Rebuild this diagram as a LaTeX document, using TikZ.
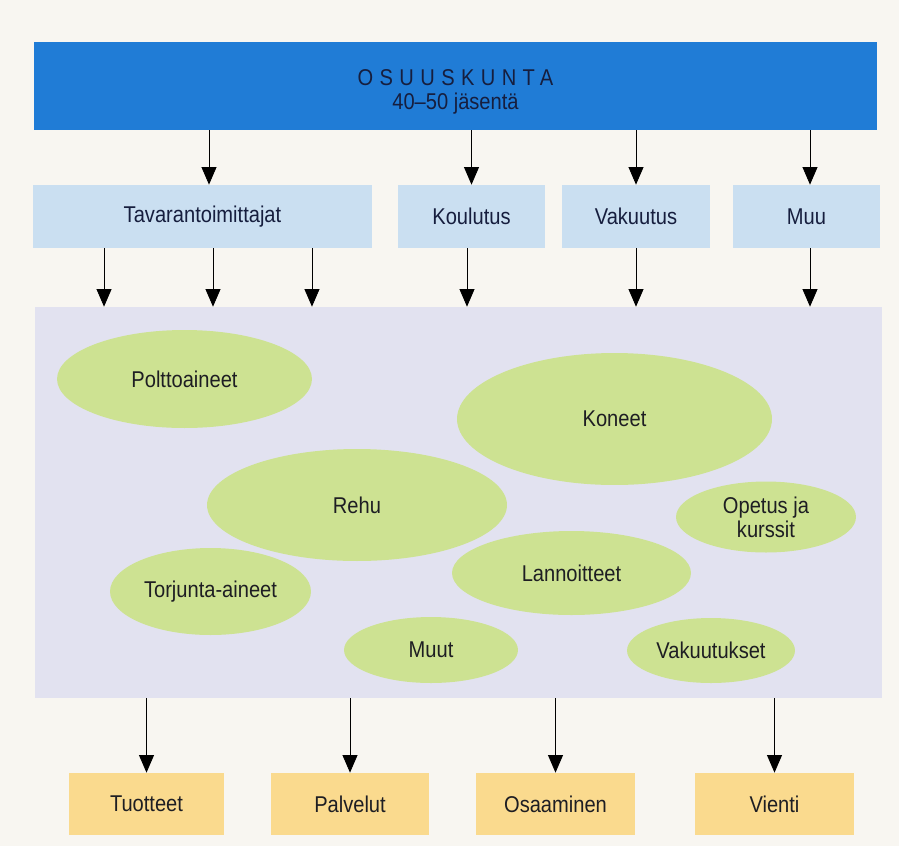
\documentclass[tikz,border=0pt]{standalone}
\usepackage{fontspec}
\setmainfont{Liberation Sans}[FakeStretch=0.88]
\usepackage{tikz}
\usetikzlibrary{shapes.geometric, arrows.meta, positioning, calc}
\definecolor{ospblue}{RGB}{32,124,214}
\definecolor{osplightblue}{RGB}{202,223,241}
\definecolor{osplavender}{RGB}{226,226,240}
\definecolor{ospgreen}{RGB}{205,226,146}
\definecolor{osporange}{RGB}{250,218,142}
\definecolor{ospcream}{RGB}{248,246,241}
\definecolor{ospnavy}{RGB}{22,30,62}
\definecolor{osptext}{RGB}{30,30,35}

\begin{document}
\begin{tikzpicture}[
  x=0.02cm, y=-0.02cm,
  every node/.style = {font=\fontsize{13}{13.5}\selectfont, text=osptext},
  head/.style = {
    rectangle, fill=ospblue, inner sep=0pt,
    minimum width=16.86cm, minimum height=1.76cm,
    align=center, text=ospnavy
  },
  unit/.style = {
    rectangle, fill=osplightblue, inner sep=0pt,
    minimum width=#1, minimum height=1.26cm, text=ospnavy
  },
  area/.style = {
    rectangle, fill=osplavender, inner sep=0pt,
    minimum width=16.94cm, minimum height=7.82cm
  },
  blob/.style args = {#1x#2}{
    ellipse, fill=ospgreen, inner sep=0pt,
    minimum width=#1, minimum height=#2, align=center
  },
  outp/.style = {
    rectangle, fill=osporange, inner sep=0pt,
    minimum width=#1, minimum height=1.24cm
  },
  arr/.style = {-{Triangle[length=10pt,width=8.5pt]}, line width=0.5pt}
]

%% ── canvas ────────────────────────────────────────────────────────────────
\fill[ospcream] (0,0) rectangle (899,846);

%% ── Row 0: cooperative ────────────────────────────────────────────────────
\node[head] (osk) at (455.5, 86)
  {\raisebox{-3.7pt}[\height][\depth]{\begin{tabular}{@{}c@{}}
     {\addfontfeature{LetterSpace=28}OSUUSKUNTA}\\[0pt]
     40--50 jäsentä
   \end{tabular}}};

%% ── Row 1: functions ──────────────────────────────────────────────────────
\node[unit=6.78cm] (tava) at (202.5, 216.5) {Tavarantoimittajat};
\node[unit=2.94cm] (koul) at (471.5, 216.5) {Koulutus};
\node[unit=2.96cm] (vak)  at (636.0, 216.5) {Vakuutus};
\node[unit=2.94cm] (muu)  at (806.5, 216.5) {Muu};

%% ── Row 2: activity area with ellipses ────────────────────────────────────
\node[area] (act) at (458.5, 502.5) {};

\node[blob=5.10cm x 1.96cm] (polt) at (184.5, 379) {Polttoaineet};
\node[blob=6.30cm x 2.64cm] (kone) at (614.5, 419) {Koneet};
\node[blob=6.00cm x 2.24cm] (rehu) at (357.0, 505) {Rehu};
\node[blob=3.60cm x 1.42cm] (opet) at (766.0, 517) {Opetus ja\\kurssit};
\node[blob=4.78cm x 1.68cm] (lann) at (571.5, 573) {Lannoitteet};
\node[blob=4.02cm x 1.74cm] (torj) at (210.5, 591.5) {Torjunta-aineet};
\node[blob=3.48cm x 1.32cm] (muut) at (431.0, 650) {Muut};
\node[blob=3.36cm x 1.30cm] (vaks) at (711.0, 650.5) {Vakuutukset};

%% ── Row 3: outputs ────────────────────────────────────────────────────────
\node[outp=3.10cm] (tuot) at (146.5, 804) {Tuotteet};
\node[outp=3.16cm] (palv) at (350.0, 804) {Palvelut};
\node[outp=3.18cm] (osaa) at (555.5, 804) {Osaaminen};
\node[outp=3.18cm] (vien) at (774.5, 804) {Vienti};

%% ── Arrows ────────────────────────────────────────────────────────────────
\draw[arr] ([xshift=0.13cm]osk.south -| tava.north) -- ([xshift=0.13cm]tava.north);
\draw[arr] (osk.south -| koul.north) -- (koul.north);
\draw[arr] (osk.south -| vak.north)  -- (vak.north);
\draw[arr] ([xshift=0.07cm]osk.south -| muu.north) -- ([xshift=0.07cm]muu.north);

\draw[arr] ([xshift=-1.97cm]tava.south) -- ([xshift=-1.97cm]tava.south |- act.north);
\draw[arr] ([xshift=0.21cm]tava.south)  -- ([xshift=0.21cm]tava.south |- act.north);
\draw[arr] ([xshift=2.19cm]tava.south)  -- ([xshift=2.19cm]tava.south |- act.north);
\draw[arr] ([xshift=-0.09cm]koul.south) -- ([xshift=-0.09cm]koul.south |- act.north);
\draw[arr] (vak.south) -- (vak.south |- act.north);
\draw[arr] ([xshift=0.07cm]muu.south) -- ([xshift=0.07cm]muu.south |- act.north);

\draw[arr] (act.south -| tuot.north) -- (tuot.north);
\draw[arr] (act.south -| palv.north) -- (palv.north);
\draw[arr] (act.south -| osaa.north) -- (osaa.north);
\draw[arr] (act.south -| vien.north) -- (vien.north);

\end{tikzpicture}
\end{document}
